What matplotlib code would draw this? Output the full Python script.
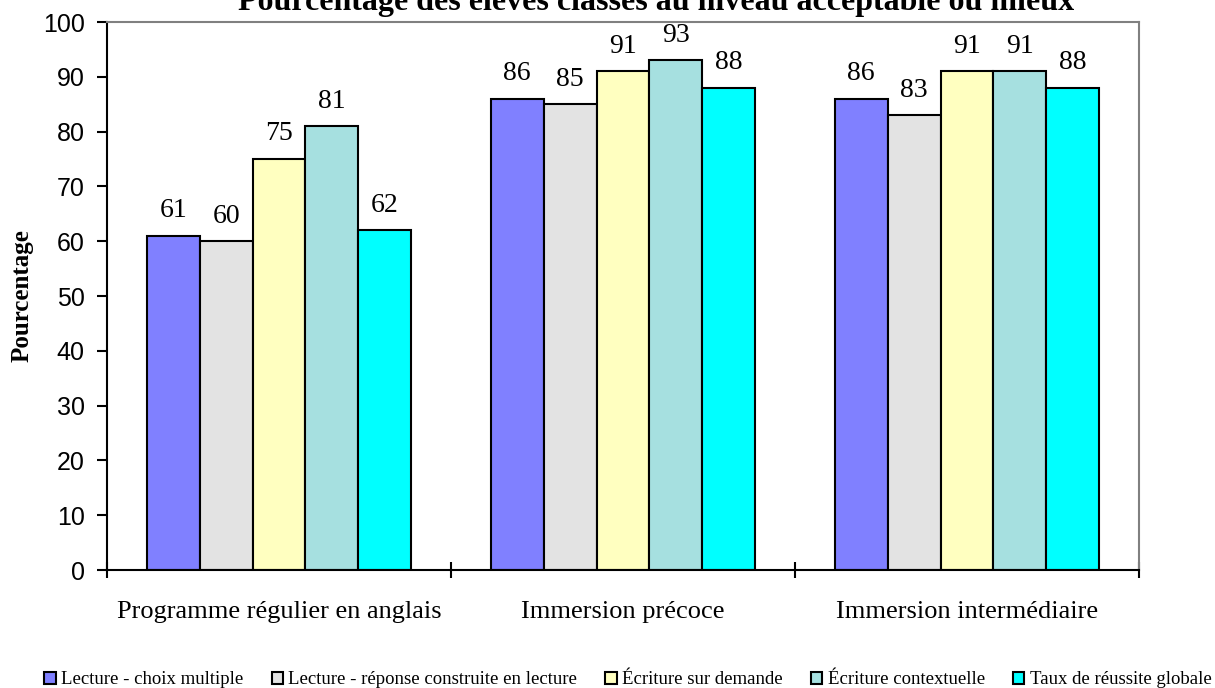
import matplotlib
matplotlib.use("Agg")
import matplotlib.pyplot as plt
import numpy as np

categories = ["Programme régulier en anglais", "Immersion précoce", "Immersion intermédiaire"]
series_names = ["Lecture - choix multiple", "Lecture - réponse construite en lecture",
                "Écriture sur demande", "Écriture contextuelle", "Taux de réussite globale"]
lecture_choix = [61, 86, 86]
lecture_reponse = [60, 85, 83]
ecriture_demande = [75, 91, 91]
ecriture_contextuelle = [81, 93, 91]
taux_reussite = [62, 88, 88]
series_values = [lecture_choix, lecture_reponse, ecriture_demande, ecriture_contextuelle, taux_reussite]
colors = ["#8080FF", "#E3E3E3", "#FFFFC0", "#A6E0E0", "#00FFFF"]
yticks = list(range(0, 101, 10))

serif = ["Liberation Serif", "DejaVu Serif"]
sans = ["Liberation Sans", "DejaVu Sans"]

fig = plt.figure(figsize=(12.15, 6.88), dpi=100)
ax = fig.add_axes([107/1215, 1-570/688, (1139-107)/1215, (570-22)/688])

x = np.arange(len(categories))
w = 1/6.5
handles = []
for i, (vals, col) in enumerate(zip(series_values, colors)):
    pos = x + (i - 2) * w
    b = ax.bar(pos, vals, width=w, color=col, edgecolor="black", linewidth=1.5,
               label=series_names[i])
    handles.append(b)
    for px, v in zip(pos, vals):
        ax.annotate(str(v), (px, v), xytext=(0, 9), textcoords="offset points",
                    ha="center", va="bottom", fontsize=20, family=serif)

ax.set_xlim(-0.5, 2.5)
ax.set_ylim(0, 100)
ax.set_yticks(yticks)
ax.set_yticklabels([str(t) for t in yticks], family=sans, fontsize=18)
ax.tick_params(axis="y", direction="out", length=7, width=1.5, pad=9)
ax.set_xticks(x)
ax.set_xticklabels(categories, family=serif, fontsize=19)
ax.tick_params(axis="x", which="major", length=0, pad=22)
ax.set_xticks([-0.5, 0.5, 1.5, 2.5], minor=True)
ax.tick_params(axis="x", which="minor", direction="inout", length=12, width=1.5)

for s in ["left", "bottom"]:
    ax.spines[s].set_color("black")
    ax.spines[s].set_linewidth(1.5)
for s in ["top", "right"]:
    ax.spines[s].set_color("#808080")
    ax.spines[s].set_linewidth(1.5)

ax.set_ylabel("Pourcentage", family=serif, fontweight="bold", fontsize=18)
ax.yaxis.set_label_coords(-(107-34)/1032, 0.5)

fig.text(656/1215, 1 - 10/688, "Pourcentage des élèves classés au niveau acceptable ou mieux",
         ha="center", va="baseline", family=serif, fontweight="bold", fontsize=23)

fig.legend(handles=handles, labels=series_names, loc="center", ncol=5,
           bbox_to_anchor=(628/1215, 1 - 680/688), frameon=False,
           prop={"family": serif, "size": 13.5}, handlelength=0.6, handleheight=0.6,
           handletextpad=0.3, columnspacing=1.5, borderaxespad=0)

fig.savefig("out.png", dpi=100)
